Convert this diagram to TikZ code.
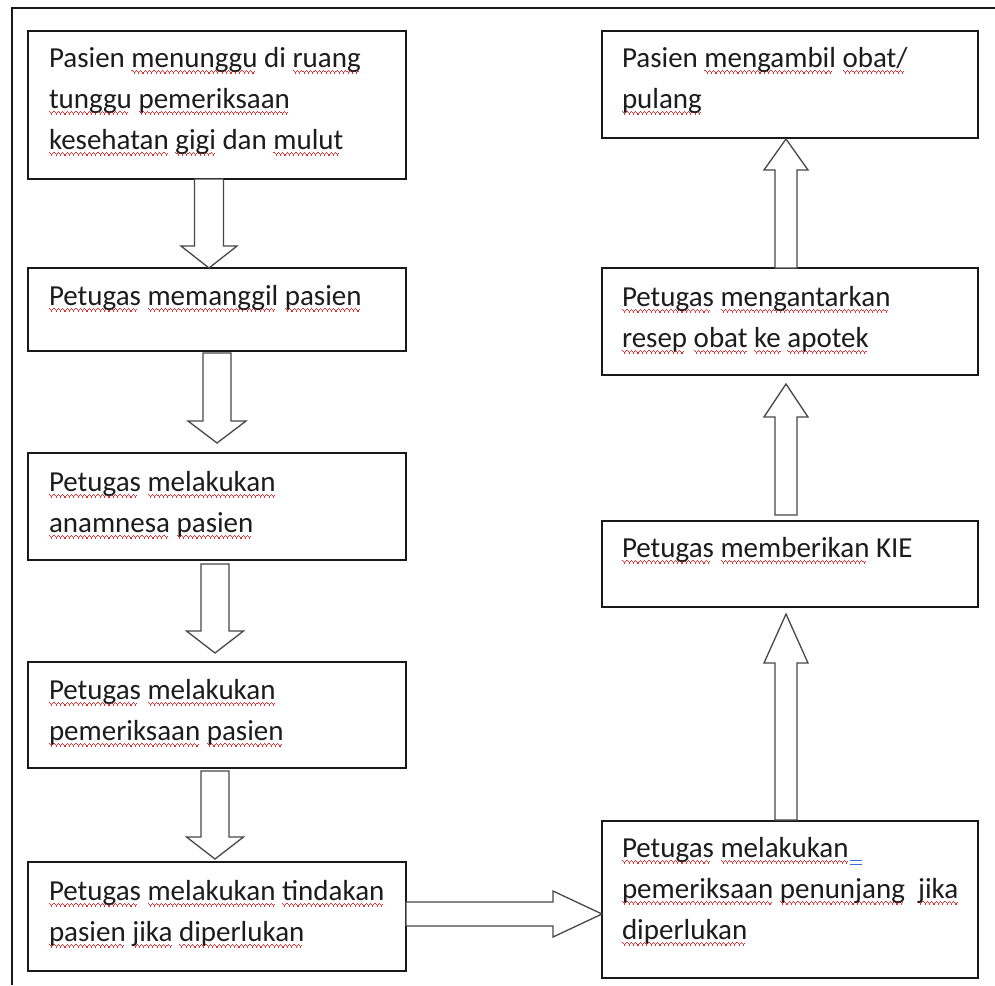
\documentclass[tikz,border=0pt]{standalone}
\usepackage{fontspec}
\setmainfont{Carlito}
\usetikzlibrary{calc}
\definecolor{wavered}{RGB}{230,45,45}
\definecolor{txtcol}{RGB}{28,28,28}
\definecolor{gramblue}{RGB}{60,110,220}
\newcommand\wvseg{\hbox{\rule[-4.3pt]{1.1pt}{1.5pt}\rule[-5.4pt]{1.1pt}{1.5pt}\rule[-6.5pt]{1.1pt}{1.5pt}\rule[-5.4pt]{1.1pt}{1.5pt}}}
\newcommand\wv[1]{\setbox0=\hbox{#1}\rlap{\hbox to\wd0{\color{wavered}\leaders\wvseg\hfill}}#1}
\newcommand\grammark{\hspace{1pt}\rlap{\textcolor{gramblue}{\raisebox{-4pt}{\rule{12pt}{1pt}}}}\textcolor{gramblue}{\raisebox{-8pt}{\rule{12pt}{1pt}}}}
% block arrows: from, to, centre offset, shaft half width, head half width, head length, start gap, end gap
\newcommand\blkdown[8]{\draw[blk] ($(#1.south)+(#3-#4,#7)$) -- ($(#2.north)+(#3-#4,-#6-#8)$) -- ($(#2.north)+(#3-#5,-#6-#8)$) -- ($(#2.north)+(#3,-#8)$) -- ($(#2.north)+(#3+#5,-#6-#8)$) -- ($(#2.north)+(#3+#4,-#6-#8)$) -- ($(#1.south)+(#3+#4,#7)$) -- cycle;}
\newcommand\blkup[8]{\draw[blk] ($(#1.north)+(#3-#4,-#7)$) -- ($(#2.south)+(#3-#4,#6+#8)$) -- ($(#2.south)+(#3-#5,#6+#8)$) -- ($(#2.south)+(#3,#8)$) -- ($(#2.south)+(#3+#5,#6+#8)$) -- ($(#2.south)+(#3+#4,#6+#8)$) -- ($(#1.north)+(#3+#4,-#7)$) -- cycle;}
\begin{document}
\begin{tikzpicture}[x=1pt,y=-1pt,
  box/.style={draw=black!90, line width=1.2pt, fill=white, inner sep=0pt, outer sep=0pt},
  txt/.style={anchor=base west, inner sep=0pt, outer sep=0pt, font=\fontsize{29}{41}\selectfont, text=txtcol},
  blk/.style={draw=black!72, line width=1.3pt, fill=white, line join=miter},
  frame/.style={draw=black!90, line width=1.3pt}]
\useasboundingbox (0,0) rectangle (995,985);
\fill[white] (0,0) rectangle (995,985);
\coordinate (fc) at (12,8);
\coordinate (fr) at (995,8);
\coordinate (fb) at (12,985);
\draw[frame] (fr) -- (fc) -- (fb);
% left column
\node[box, minimum width=378pt, minimum height=148pt] (b1) at (217,105) {};
\node[box, minimum width=378pt, minimum height=83pt] (b2) at (217,309.5) {};
\node[box, minimum width=378pt, minimum height=107pt] (b3) at (217,506.5) {};
\node[box, minimum width=378pt, minimum height=106pt] (b4) at (217,715) {};
\node[box, minimum width=378pt, minimum height=109pt] (b5) at (217,916.5) {};
% right column
\node[box, minimum width=376pt, minimum height=107pt] (r1) at (790,84.5) {};
\node[box, minimum width=376pt, minimum height=107pt] (r2) at (790,321.5) {};
\node[box, minimum width=376pt, minimum height=86pt] (r3) at (790,564) {};
\node[box, minimum width=376pt, minimum height=157pt] (r4) at (790,899.5) {};
% texts
\node[txt] (b1t1) at ($(b1.north west)+(21,36)$) {Pasien \wv{menunggu} di \wv{ruang}};
\node[txt] (b1t2) at ($(b1.north west)+(21,77)$) {\wv{tunggu} \wv{pemeriksaan}};
\node[txt] (b1t3) at ($(b1.north west)+(21,118)$) {\wv{kesehatan} \wv{gigi} dan \wv{mulut}};
\node[txt] (b2t1) at ($(b2.north west)+(21,37)$) {\wv{Petugas} \wv{memanggil} \wv{pasien}};
\node[txt] (b3t1) at ($(b3.north west)+(21,38)$) {\wv{Petugas} \wv{melakukan}};
\node[txt] (b3t2) at ($(b3.north west)+(21,79)$) {\wv{anamnesa} \wv{pasien}};
\node[txt] (b4t1) at ($(b4.north west)+(21,37)$) {\wv{Petugas} \wv{melakukan}};
\node[txt] (b4t2) at ($(b4.north west)+(21,78)$) {\wv{pemeriksaan} \wv{pasien}};
\node[txt] (b5t1) at ($(b5.north west)+(21,38)$) {\wv{Petugas} \wv{melakukan} \wv{tindakan}};
\node[txt] (b5t2) at ($(b5.north west)+(21,79)$) {\wv{pasien} \wv{jika} \wv{diperlukan}};
\node[txt] (r1t1) at ($(r1.north west)+(20,36)$) {Pasien \wv{mengambil} \wv{obat/}};
\node[txt] (r1t2) at ($(r1.north west)+(20,77)$) {\wv{pulang}};
\node[txt] (r2t1) at ($(r2.north west)+(20,38)$) {\wv{Petugas} \wv{mengantarkan}};
\node[txt] (r2t2) at ($(r2.north west)+(20,79)$) {\wv{resep} \wv{obat} \wv{ke} \wv{apotek}};
\node[txt] (r3t1) at ($(r3.north west)+(20,36)$) {\wv{Petugas} \wv{memberikan} KIE};
\node[txt] (r4t1) at ($(r4.north west)+(20,36)$) {\wv{Petugas} \wv{melakukan}\grammark};
\node[txt] (r4t2) at ($(r4.north west)+(20,77)$) {\wv{pemeriksaan} \wv{penunjang}\ \ \wv{jika}};
\node[txt] (r4t3) at ($(r4.north west)+(20,118)$) {\wv{diperlukan}};
% block arrows
\blkdown{b1}{b2}{-8}{14.5}{28}{22}{0}{0}
\blkdown{b2}{b3}{0}{14}{29}{22}{2}{10}
\blkdown{b3}{b4}{-2}{14}{28.5}{22}{4}{9}
\blkdown{b4}{b5}{-2}{14}{28.5}{22}{3}{3}
\blkup{r2}{r1}{-4}{11}{22}{31}{0}{1}
\blkup{r3}{r2}{-4}{11}{22}{33}{6}{9}
\blkup{r4}{r3}{-4}{11}{22}{49}{1}{7}
\draw[blk] ($(b5.east)+(0,-2.5-12)$) -- ($(r4.west |- b5.east)+(-49,-2.5-12)$) -- ($(r4.west |- b5.east)+(-49,-2.5-23)$) -- ($(r4.west |- b5.east)+(0,-2.5)$) -- ($(r4.west |- b5.east)+(-49,-2.5+23)$) -- ($(r4.west |- b5.east)+(-49,-2.5+12)$) -- ($(b5.east)+(0,-2.5+12)$) -- cycle;
\end{tikzpicture}
\end{document}
